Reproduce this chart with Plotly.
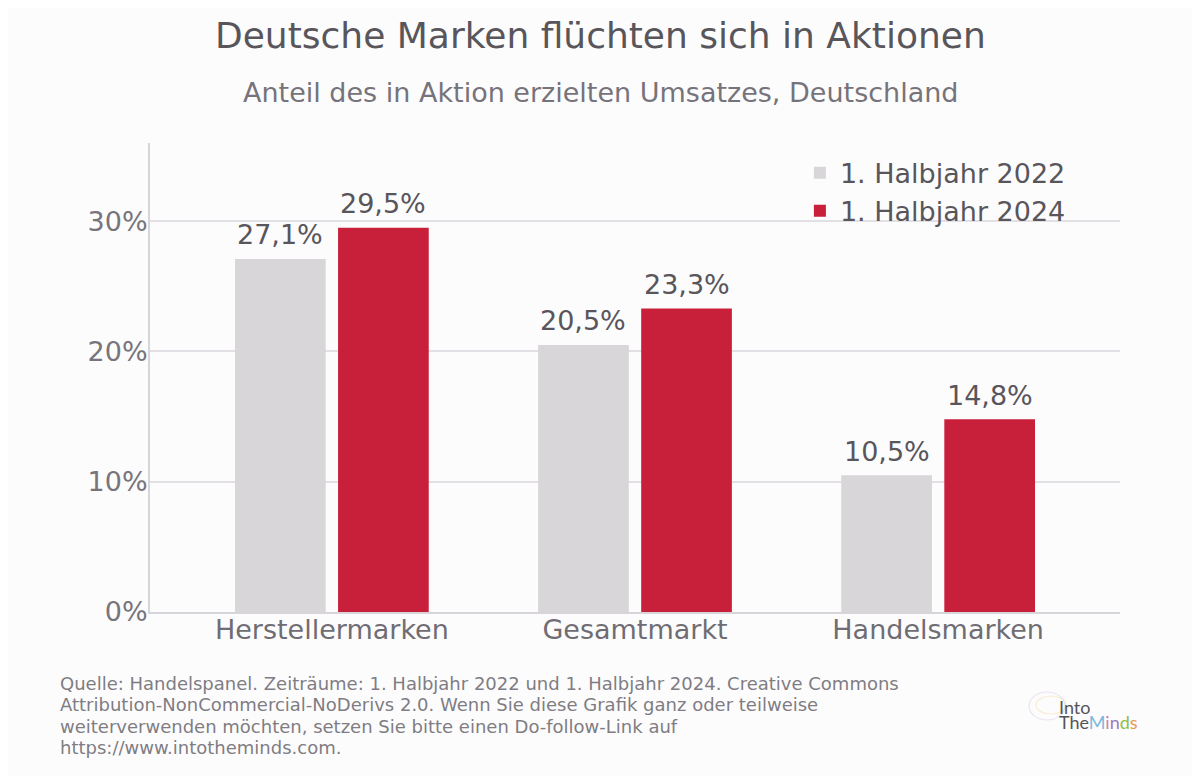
import plotly.graph_objects as go

categories = ["Herstellermarken", "Gesamtmarkt", "Handelsmarken"]
series_names = ["1. Halbjahr 2022", "1. Halbjahr 2024"]
values_2022 = [27.1, 20.5, 10.5]
values_2024 = [29.5, 23.3, 14.8]
tick_vals = [0, 10, 20, 30]
tick_text = ["0%", "10%", "20%", "30%"]

colors = ["#d8d6d9", "#c8203b"]
FONT = "DejaVu Sans"
BG = "#fdfcfd"

# plot area in figure pixels (figure is drawn at an 8px page offset)
L, T, R, B = 142, 135, 88, 172
PH = 776 - T - B
PW = 1200 - L - R


def py(fig_y):
    return (776 - B - fig_y) / PH


def px(fig_x):
    return (fig_x - L) / PW


def fmt(v):
    return f"{v:.1f}".replace(".", ",") + "%"


fig = go.Figure()
all_series = [values_2022, values_2024]
for name, vals, col in zip(series_names, all_series, colors):
    fig.add_trace(go.Bar(
        x=categories, y=vals, name=name,
        marker=dict(color=col, line=dict(width=0)),
        hovertemplate="%{x}: %{y:.1f}%<extra>" + name + "</extra>",
    ))

# value labels above each bar (bar slot offset of the grouped layout)
slot_offsets = [-0.17, 0.17]
for vals, off in zip(all_series, slot_offsets):
    for i, v in enumerate(vals):
        fig.add_annotation(
            x=i + off, y=v, xref="x", yref="y", text=fmt(v),
            showarrow=False, yanchor="middle", yshift=24,
            font=dict(family=FONT, size=27, color="#58565b"),
        )

fig.update_layout(
    width=1200, height=776,
    paper_bgcolor=BG, plot_bgcolor=BG,
    barmode="group", bargap=0.32, bargroupgap=0.12,
    margin=dict(l=L, r=R, t=T, b=B),
    font=dict(family=FONT, color="#58565b"),
    legend=dict(
        x=0.670, y=0.988, xanchor="left", yanchor="top",
        bgcolor="rgba(0,0,0,0)",
        font=dict(family=FONT, size=27, color="#58565b"),
        tracegroupgap=0, itemsizing="constant",
    ),
    xaxis=dict(
        range=[-0.6, 2.6], showgrid=False, showline=True,
        linecolor="#d7d5d9", linewidth=2, ticks="", ticklabelstandoff=-7,
        tickfont=dict(family=FONT, size=27, color="#6f6d73"),
    ),
    yaxis=dict(
        range=[0, 36], tickmode="array", tickvals=tick_vals, ticktext=tick_text,
        showgrid=True, gridcolor="#e2e0e4", gridwidth=2,
        showline=True, linecolor="#d7d5d9", linewidth=2,
        zeroline=False, ticks="", ticklabelstandoff=-5,
        tickfont=dict(family=FONT, size=27, color="#77757b"),
    ),
)

fig.add_annotation(
    text="Deutsche Marken flüchten sich in Aktionen",
    xref="paper", yref="paper", x=px(592), y=py(28), xanchor="center", yanchor="middle",
    showarrow=False, font=dict(family=FONT, size=36, color="#58565b"),
)
fig.add_annotation(
    text="Anteil des in Aktion erzielten Umsatzes, Deutschland",
    xref="paper", yref="paper", x=px(592), y=py(84), xanchor="center", yanchor="middle",
    showarrow=False, font=dict(family=FONT, size=27, color="#76737a"),
)

foot_lines = [
    "Quelle: Handelspanel. Zeiträume: 1. Halbjahr 2022 und 1. Halbjahr 2024. Creative Commons",
    "Attribution-NonCommercial-NoDerivs 2.0. Wenn Sie diese Grafik ganz oder teilweise",
    "weiterverwenden möchten, setzen Sie bitte einen Do-follow-Link auf",
    "https://www.intotheminds.com.",
]
foot_y = [675, 696, 718, 739]
for line, yy in zip(foot_lines, foot_y):
    fig.add_annotation(
        text=line, xref="paper", yref="paper", x=px(50), y=py(yy),
        xanchor="left", yanchor="middle", align="left", showarrow=False,
        font=dict(family=FONT, size=18, color="#7f7d83"),
    )

# logo
fig.add_annotation(
    text="Into", xref="paper", yref="paper", x=px(1049), y=py(699),
    xanchor="left", yanchor="middle", showarrow=False,
    font=dict(family="Lato", size=18, color="#555459"),
)
fig.add_annotation(
    text=("<span style='color:#555459'>The</span>"
          "<span style='color:#7ab8dd'>M</span><span style='color:#d97aa8'>i</span>"
          "<span style='color:#9a7ab8'>n</span><span style='color:#8fbf4a'>d</span>"
          "<span style='color:#e89a4a'>s</span>"),
    xref="paper", yref="paper", x=px(1049), y=py(714),
    xanchor="left", yanchor="middle", showarrow=False,
    font=dict(family="Lato", size=18, color="#555459"),
)
fig.add_shape(type="circle", xref="paper", yref="paper",
              x0=px(1021), x1=px(1057), y0=py(712), y1=py(684),
              line=dict(color="rgba(200,170,220,0.3)", width=1.2))
fig.add_shape(type="circle", xref="paper", yref="paper",
              x0=px(1028), x1=px(1058), y0=py(706), y1=py(688),
              line=dict(color="rgba(240,200,120,0.3)", width=1.2))

fig.write_html("out.html")
